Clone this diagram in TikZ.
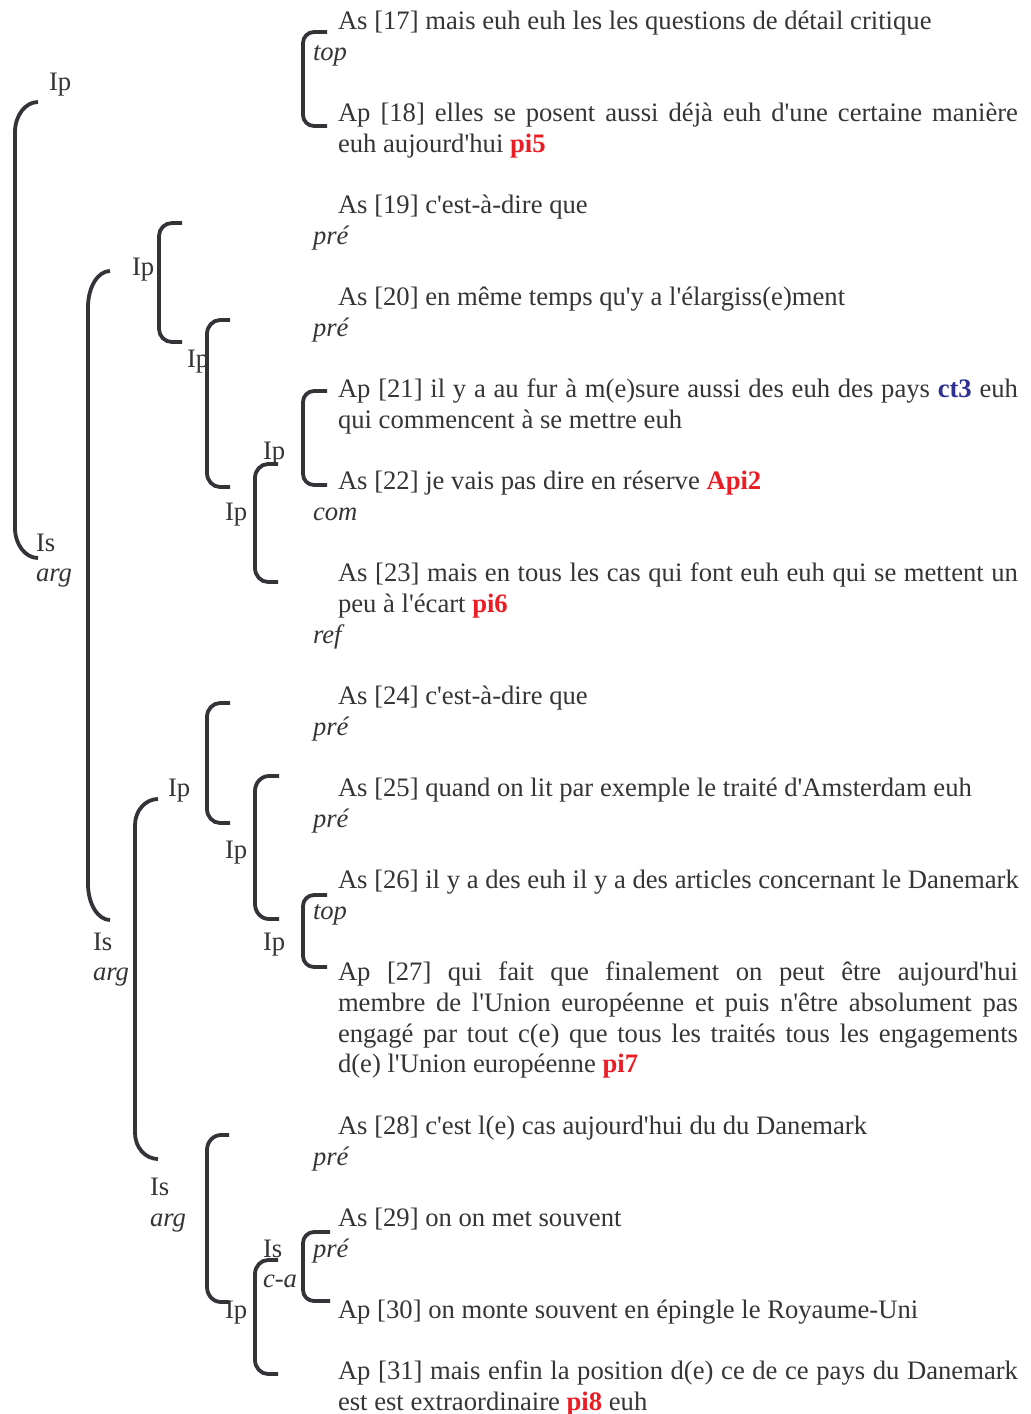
\documentclass[tikz,border=0pt]{standalone}
\usepackage{fontspec}
\setmainfont{Liberation Serif}[Ligatures=TeXOff]
\usepackage{xcolor}
\definecolor{txtc}{HTML}{353535}
\definecolor{brkc}{HTML}{333338}
\definecolor{redc}{HTML}{EC1C24}
\definecolor{bluec}{HTML}{2E3192}
\newcommand\fsz{\fontsize{26.65}{30.69}\selectfont}
\newcommand\rd[1]{\textbf{\textcolor{redc}{#1}}}
\newcommand\bl[1]{\textbf{\textcolor{bluec}{#1}}}
\newcommand\jl[1]{\makebox[680pt][s]{#1}\par}
\newcommand\brkt[6]{%
  \draw[brk] (#4,#2) -- ({#1+#5},#2) .. controls ({#1+0.45*#5},#2) and (#1,{#2+0.45*#6}) .. (#1,{#2+#6})
    -- (#1,{#3-#6}) .. controls (#1,{#3-0.45*#6}) and ({#1+0.45*#5},#3) .. ({#1+#5},#3) -- (#4,#3);}
\tikzset{
  lab/.style={anchor=base west, inner sep=0pt, outer sep=0pt, font=\fsz, text=txtc},
  ital/.style={lab, font=\fsz\itshape},
  brk/.style={draw=brkc, line width=3.8pt},
}
\begin{document}
\begin{tikzpicture}[x=1pt,y=-1pt]
\path[use as bounding box, fill=white] (0,0) rectangle (1031,1414);
% brackets
\brkt{15}{102}{558}{38}{23}{30}
\brkt{303}{32}{126}{327}{11}{11}
\brkt{159}{223}{342}{182}{13}{13}
\brkt{207}{320}{487}{230}{13}{14}
\brkt{303}{391}{485}{327}{11}{11}
\brkt{255}{464}{582}{278}{13}{14}
\brkt{88}{271}{920}{110}{22}{36}
\brkt{207}{703}{823}{230}{13}{14}
\brkt{255}{776}{919}{279}{14}{15}
\brkt{303}{895}{967}{327}{11}{11}
\brkt{135}{799}{1159}{158}{23}{26}
\brkt{207}{1135}{1302}{229}{14}{15}
\brkt{303}{1232}{1301}{330}{11}{11}
\brkt{255}{1260}{1374}{278}{13}{14}
% texts
\node[lab] (t17) at (338,{29.5+30.69*0}) {As [17] mais euh euh les les questions de détail critique};
\node[ital] (l1) at (313,{29.5+30.69*1}) {top};
\node[lab] (t18) at (338,{29.5+30.69*3}) {\parbox[t]{680pt}{\jl{Ap [18] elles se posent aussi déjà euh d'une certaine manière}euh aujourd'hui \rd{pi5}}};
\node[lab] (t19) at (338,{29.5+30.69*6}) {As [19] c'est-à-dire que};
\node[ital] (l2) at (313,{29.5+30.69*7}) {pré};
\node[lab] (t20) at (338,{29.5+30.69*9}) {As [20] en même temps qu'y a l'élargiss(e)ment};
\node[ital] (l3) at (313,{29.5+30.69*10}) {pré};
\node[lab] (t21) at (338,{29.5+30.69*12}) {\parbox[t]{680pt}{\jl{Ap [21] il y a au fur à m(e)sure aussi des euh des pays \bl{ct3} euh}qui commencent à se mettre euh}};
\node[lab] (t22) at (338,{29.5+30.69*15}) {As [22] je vais pas dire en réserve \rd{Api2}};
\node[ital] (l4) at (313,{29.5+30.69*16}) {com};
\node[lab] (t23) at (338,{29.5+30.69*18}) {\parbox[t]{680pt}{\jl{As [23] mais en tous les cas qui font euh euh qui se mettent un}peu à l'écart \rd{pi6}}};
\node[ital] (l5) at (313,{29.5+30.69*20}) {ref};
\node[lab] (t24) at (338,{29.5+30.69*22}) {As [24] c'est-à-dire que};
\node[ital] (l6) at (313,{29.5+30.69*23}) {pré};
\node[lab] (t25) at (338,{29.5+30.69*25}) {As [25] quand on lit par exemple le traité d'Amsterdam euh};
\node[ital] (l7) at (313,{29.5+30.69*26}) {pré};
\node[lab] (t26) at (338,{29.5+30.69*28}) {As [26] il y a des euh il y a des articles concernant le Danemark};
\node[ital] (l8) at (313,{29.5+30.69*29}) {top};
\node[lab] (t27) at (338,{29.5+30.69*31}) {\parbox[t]{680pt}{\jl{Ap [27] qui fait que finalement on peut être aujourd'hui}\jl{membre de l'Union européenne et puis n'être absolument pas}\jl{engagé par tout c(e) que tous les traités tous les engagements}d(e) l'Union européenne \rd{pi7}}};
\node[lab] (t28) at (338,{29.5+30.69*36}) {As [28] c'est l(e) cas aujourd'hui du du Danemark};
\node[ital] (l9) at (313,{29.5+30.69*37}) {pré};
\node[lab] (t29) at (338,{29.5+30.69*39}) {As [29] on on met souvent};
\node[ital] (l10) at (313,{29.5+30.69*40}) {pré};
\node[lab] (t30) at (338,{29.5+30.69*42}) {Ap [30] on monte souvent en épingle le Royaume-Uni};
\node[lab] (t31) at (338,{29.5+30.69*44}) {\parbox[t]{680pt}{\jl{Ap [31] mais enfin la position d(e) ce de ce pays du Danemark}est est extraordinaire \rd{pi8} euh}};
% structure labels
\node[lab] (s1) at (49,{29.5+30.69*2}) {Ip};
\node[lab] (s2) at (36,{29.5+30.69*17}) {Is};
\node[ital] (s2a) at (36,{29.5+30.69*18}) {arg};
\node[lab] (s3) at (132,{29.5+30.69*8}) {Ip};
\node[lab] (s4) at (187,{29.5+30.69*11}) {Ip};
\node[lab] (s5) at (263,{29.5+30.69*14}) {Ip};
\node[lab] (s6) at (225,{29.5+30.69*16}) {Ip};
\node[lab] (s7) at (168,{29.5+30.69*25}) {Ip};
\node[lab] (s8) at (225,{29.5+30.69*27}) {Ip};
\node[lab] (s9) at (93,{29.5+30.69*30}) {Is};
\node[ital] (s9a) at (93,{29.5+30.69*31}) {arg};
\node[lab] (s10) at (263,{29.5+30.69*30}) {Ip};
\node[lab] (s11) at (150,{29.5+30.69*38}) {Is};
\node[ital] (s11a) at (150,{29.5+30.69*39}) {arg};
\node[lab] (s12) at (263,{29.5+30.69*40}) {Is};
\node[ital] (s12a) at (263,{29.5+30.69*41}) {c-a};
\node[lab] (s13) at (225,{29.5+30.69*42}) {Ip};
\end{tikzpicture}
\end{document}
